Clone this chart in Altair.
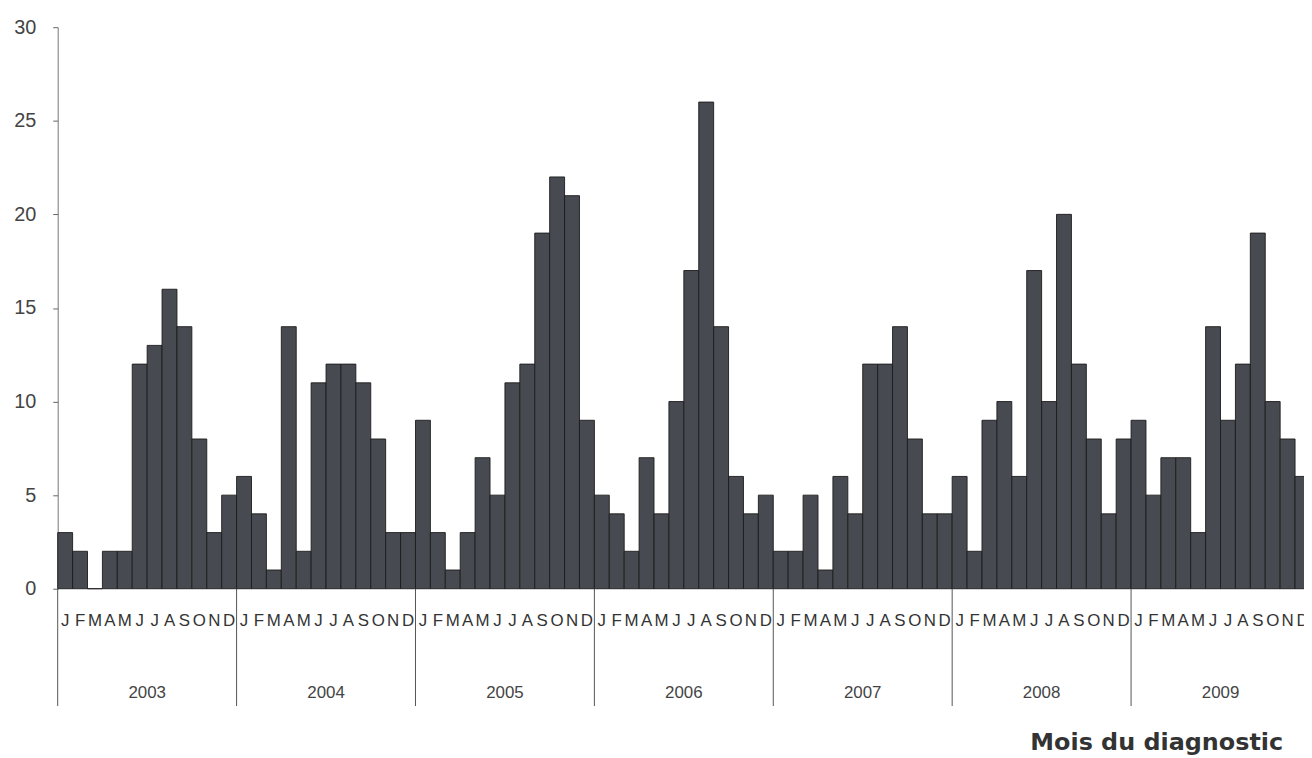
import altair as alt
import pandas as pd

years = ["2003", "2004", "2005", "2006", "2007", "2008", "2009"]
month_letters = ["J", "F", "M", "A", "M", "J", "J", "A", "S", "O", "N", "D"]
y2003 = [3, 2, 0, 2, 2, 12, 13, 16, 14, 8, 3, 5]
y2004 = [6, 4, 1, 14, 2, 11, 12, 12, 11, 8, 3, 3]
y2005 = [9, 3, 1, 3, 7, 5, 11, 12, 19, 22, 21, 9]
y2006 = [5, 4, 2, 7, 4, 10, 17, 26, 14, 6, 4, 5]
y2007 = [2, 2, 5, 1, 6, 4, 12, 12, 14, 8, 4, 4]
y2008 = [6, 2, 9, 10, 6, 17, 10, 20, 12, 8, 4, 8]
y2009 = [9, 5, 7, 7, 3, 14, 9, 12, 19, 10, 8, 6]
y_ticks = [0, 5, 10, 15, 20, 25, 30]

series = [y2003, y2004, y2005, y2006, y2007, y2008, y2009]
rows = []
for k, (yr, vals) in enumerate(zip(years, series)):
    for m, v in enumerate(vals):
        i = k * 12 + m
        rows.append({"i": i, "i2": i + 1, "c": i + 0.5, "n": v,
                     "m": month_letters[m], "year": yr})
df = pd.DataFrame(rows)
ydf = pd.DataFrame({"year": years,
                    "yc": [k * 12 + 6 for k in range(len(years))]})
bdf = pd.DataFrame({"b": [k * 12 for k in range(len(years) + 1)]})

W = 1254
H = 565
xscale = alt.Scale(domain=[0, 83.6], nice=False, zero=False)

bars = alt.Chart(df).mark_bar(
    fill="#474a50", stroke="#1c1c1c", strokeWidth=1, strokeOpacity=0.9
).encode(
    x=alt.X("i:Q", scale=xscale,
            axis=alt.Axis(labels=False, ticks=False, title=None, grid=False,
                          domainColor="#666666", domainWidth=1)),
    x2="i2:Q",
    y=alt.Y("n:Q", scale=alt.Scale(domain=[0, 30], nice=False),
            axis=alt.Axis(values=y_ticks, title=None, grid=False,
                          tickSize=5, tickColor="#666666",
                          domainColor="#777777", labelPadding=17,
                          labelFontSize=20, labelColor="#444444",
                          labelFont="Liberation Sans")),
    y2=alt.datum(0),
)

months = alt.Chart(df).mark_text(
    fontSize=17, font="Liberation Sans Narrow, Arial Narrow, Liberation Sans",
    color="#333333", baseline="middle"
).encode(
    x=alt.X("c:Q", axis=None),
    y=alt.value(H + 33),
    text="m:N",
)

rules = alt.Chart(bdf).mark_rule(color="#555555", strokeWidth=1).encode(
    x=alt.X("b:Q", axis=None),
    y=alt.value(H),
    y2=alt.value(H + 118),
)

year_text = alt.Chart(ydf).mark_text(
    fontSize=17, font="Liberation Sans", color="#444444", baseline="middle"
).encode(
    x=alt.X("yc:Q", axis=None),
    y=alt.value(H + 105),
    text="year:N",
)

title = alt.Chart(pd.DataFrame({"t": ["Mois du diagnostic"]})).mark_text(
    fontSize=24, font="DejaVu Sans", fontWeight="bold", color="#333333",
    align="right", baseline="alphabetic"
).encode(
    x=alt.value(1233),
    y=alt.value(H + 162),
    text="t:N",
)

chart = alt.layer(bars, months, rules, year_text, title).properties(
    width=W, height=H,
    autosize=alt.AutoSizeParams(type="none"),
    padding={"left": 50, "top": 17, "right": 0, "bottom": 168},
).configure_view(stroke=None)

chart.save("out.html", embed_options={"renderer": "svg", "actions": False})
